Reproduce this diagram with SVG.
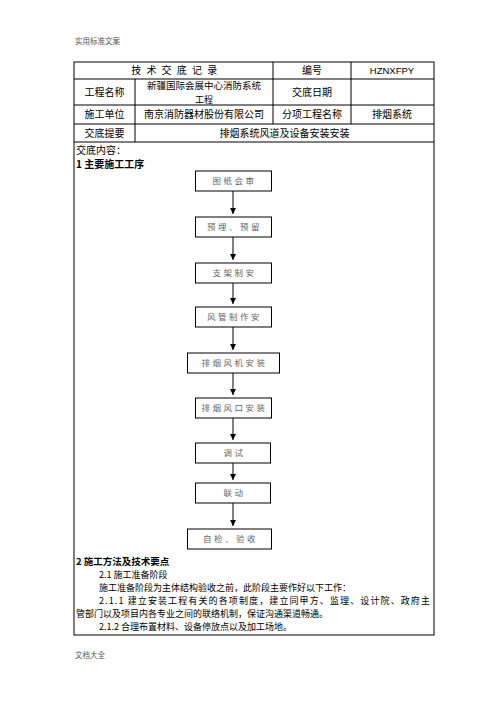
<svg xmlns="http://www.w3.org/2000/svg" width="496" height="702" viewBox="0 0 496 702">
<style>
text{font-family:"Noto Sans CJK SC","Noto Sans",sans-serif;fill:#000}
.hf{font-size:7.5px;fill:#555}
.t{font-size:10px}
.c{text-anchor:middle}
.b{font-size:9px}
.bold{font-weight:bold}
.bx rect{fill:#fff;stroke:#000;stroke-width:1}
.bx text{font-size:8.5px;fill:#666;letter-spacing:2.5px;text-anchor:middle}
.grid line{stroke:#000;stroke-width:1}
.conn line{stroke:#000;stroke-width:1}
</style>
<defs>
<marker id="ah" markerUnits="userSpaceOnUse" markerWidth="6" markerHeight="6" refX="6" refY="3" orient="auto">
<path d="M0,0 L6,3 L0,6 z" fill="#000"/>
</marker>
</defs>
<rect width="496" height="702" fill="#fff"/>
<text class="hf" x="75" y="44">实用标准文案</text>
<text class="hf" x="75" y="658">文档大全</text>

<g id="table" class="grid">
<rect x="74" y="62" width="360" height="573" fill="none" stroke="#000" stroke-width="1"/>
<line x1="74" y1="79" x2="434" y2="79"/>
<line x1="74" y1="105" x2="434" y2="105"/>
<line x1="74" y1="124" x2="434" y2="124"/>
<line x1="74" y1="142" x2="434" y2="142"/>
<line x1="135" y1="79" x2="135" y2="142"/>
<line x1="273" y1="62" x2="273" y2="124"/>
<line x1="351" y1="62" x2="351" y2="124"/>
</g>
<g id="table-text">
<text class="t c" x="175" y="74" style="letter-spacing:1.5px">技 术 交 底 记 录</text>
<text class="t c" x="312" y="74">编号</text>
<text class="c" x="392" y="74" style="font-family:'Liberation Sans',sans-serif;font-size:9.5px">HZNXFPY</text>
<text class="t c" x="104.5" y="96">工程名称</text>
<text class="c" x="204" y="89" style="font-size:9.5px">新疆国际会展中心消防系统</text>
<text class="c" x="204" y="102.5" style="font-size:9px">工程</text>
<text class="t c" x="312" y="96">交底日期</text>
<text class="t c" x="104.5" y="118">施工单位</text>
<text class="t c" x="204" y="118">南京消防器材股份有限公司</text>
<text class="t c" x="312" y="118">分项工程名称</text>
<text class="t c" x="392" y="118">排烟系统</text>
<text class="t c" x="104.5" y="137">交底提要</text>
<text class="t c" x="284.5" y="137">排烟系统风道及设备安装安装</text>
<text class="t" x="76" y="153.5">交底内容：</text>
<text class="t bold" x="76" y="168">1 主要施工工序</text>
</g>

<g class="conn" id="connectors">
<line x1="233" y1="191" x2="233" y2="214" marker-end="url(#ah)"/>
<line x1="233" y1="237" x2="233" y2="260" marker-end="url(#ah)"/>
<line x1="233" y1="283" x2="233" y2="304" marker-end="url(#ah)"/>
<line x1="233" y1="327" x2="233" y2="350" marker-end="url(#ah)"/>
<line x1="233" y1="373" x2="233" y2="395" marker-end="url(#ah)"/>
<line x1="233" y1="418" x2="233" y2="440" marker-end="url(#ah)"/>
<line x1="233" y1="463" x2="233" y2="480" marker-end="url(#ah)"/>
<line x1="233" y1="503" x2="233" y2="526" marker-end="url(#ah)"/>
</g>

<g id="n1" class="bx"><rect x="195.5" y="171" width="76" height="20"/><text x="234.5" y="184">图纸会审</text></g>
<g id="n2" class="bx"><rect x="195.5" y="217" width="76" height="20"/><text x="234.5" y="230">预埋、预留</text></g>
<g id="n3" class="bx"><rect x="195.5" y="263" width="76" height="20"/><text x="234.5" y="276">支架制安</text></g>
<g id="n4" class="bx"><rect x="195.5" y="307" width="76" height="20"/><text x="234.5" y="320">风管制作安</text></g>
<g id="n5" class="bx"><rect x="187.5" y="353" width="92" height="20"/><text x="234.5" y="366">排烟风机安装</text></g>
<g id="n6" class="bx"><rect x="195.5" y="398" width="76" height="20"/><text x="234.5" y="411">排烟风口安装</text></g>
<g id="n7" class="bx"><rect x="195.5" y="443" width="75" height="20"/><text x="234.5" y="456">调试</text></g>
<g id="n8" class="bx"><rect x="195.5" y="483" width="75" height="20"/><text x="234.5" y="496">联动</text></g>
<g id="n9" class="bx"><rect x="187.5" y="529" width="84" height="20"/><text x="230.5" y="542">自检、验收</text></g>

<g id="body">
<text class="b bold" x="76" y="564.5" style="font-size:9.5px">2 施工方法及技术要点</text>
<text class="b" x="99" y="578">2.1 施工准备阶段</text>
<text class="b" x="99" y="591">施工准备阶段为主体结构验收之前，此阶段主要作好以下工作：</text>
<text class="b" x="99" y="604" textLength="331" lengthAdjust="spacing">2.1.1 建立安装工程有关的各项制度，建立同甲方、监理、设计院、政府主</text>
<text class="b" x="76" y="617">管部门以及项目内各专业之间的联络机制，保证沟通渠道畅通。</text>
<text class="b" x="99" y="630">2.1.2 合理布置材料、设备停放点以及加工场地。</text>
</g>
</svg>
